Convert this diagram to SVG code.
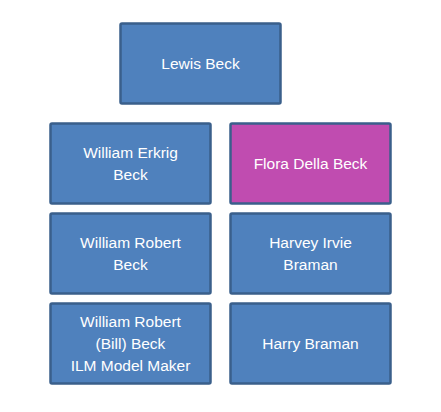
<svg xmlns="http://www.w3.org/2000/svg" width="441" height="412" viewBox="0 0 441 412">
<style>
.box{fill:#4F81BD;stroke:#3A5F8B;stroke-width:2.5}
.pink{fill:#C04CB0}
text{font-family:"Liberation Sans",Arial,sans-serif;font-size:15.5px;fill:#FFFFFF;text-anchor:middle}
</style>
<rect width="441" height="412" fill="#FFFFFF"/>
<g id="connectors"></g>
<g id="lewis-beck"><rect class="box" x="120.5" y="23.5" width="160" height="80" rx="1.5"/><text x="200.5" y="69">Lewis Beck</text></g>
<g id="william-erkrig-beck"><rect class="box" x="50.5" y="123.5" width="160" height="80" rx="1.5"/><text x="130.5" y="158">William Erkrig</text><text x="130.5" y="180">Beck</text></g>
<g id="flora-della-beck"><rect class="box pink" x="230.5" y="123.5" width="160" height="80" rx="1.5"/><text x="310.5" y="169">Flora Della Beck</text></g>
<g id="william-robert-beck"><rect class="box" x="50.5" y="213.5" width="160" height="80" rx="1.5"/><text x="130.5" y="248">William Robert</text><text x="130.5" y="270">Beck</text></g>
<g id="harvey-irvie-braman"><rect class="box" x="230.5" y="213.5" width="160" height="80" rx="1.5"/><text x="310.5" y="248">Harvey Irvie</text><text x="310.5" y="270">Braman</text></g>
<g id="william-robert-bill-beck"><rect class="box" x="50.5" y="303.5" width="160" height="80" rx="1.5"/><text x="130.5" y="327">William Robert</text><text x="130.5" y="349">(Bill) Beck</text><text x="130.5" y="371">ILM Model Maker</text></g>
<g id="harry-braman"><rect class="box" x="230.5" y="303.5" width="160" height="80" rx="1.5"/><text x="310.5" y="349">Harry Braman</text></g>
</svg>
